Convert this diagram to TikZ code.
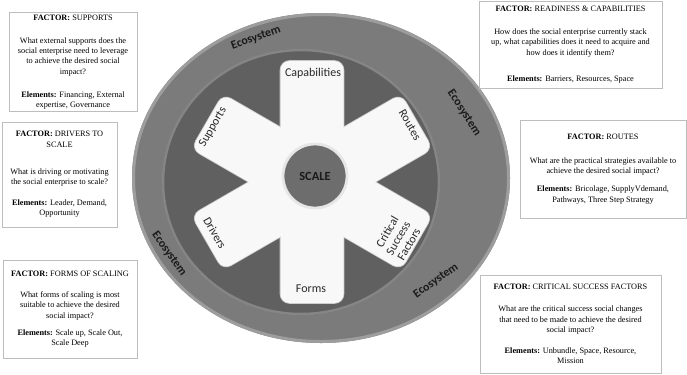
\documentclass[tikz,border=0pt]{standalone}
\usepackage{fontspec}
\setmainfont{Liberation Serif}
\newfontfamily\wheelfont{Carlito}
\definecolor{ringgray}{HTML}{7B7B7B}
\definecolor{ringedge}{HTML}{9D9D9D}
\definecolor{discgray}{HTML}{606060}
\definecolor{discedge}{HTML}{858585}
\definecolor{armwhite}{HTML}{F8F8F8}
\definecolor{armedge}{HTML}{C8C8C8}
\definecolor{scalegray}{HTML}{6D6D6D}
\definecolor{scalerim}{HTML}{E6E6E6}
\definecolor{labelgray}{HTML}{2A2A2A}
\definecolor{ecotext}{HTML}{1A1A1A}
\definecolor{boxgray}{HTML}{BDBDBD}

\begin{document}
\begin{tikzpicture}[x=1bp, y=-1bp,
    factorbox/.style={draw=boxgray, line width=0.6bp, fill=white, align=center, inner sep=2bp,
        font=\fontsize{8.3}{10.4}\selectfont},
    arm/.style={rectangle, minimum width=242bp, minimum height=63bp, rounded corners=9bp, inner sep=0pt},
    armlabel/.style={font=\wheelfont\fontsize{12}{12.5}\selectfont, text=labelgray, align=center},
    ecolabel/.style={font=\wheelfont\bfseries\fontsize{12}{12}\selectfont, text=ecotext}]
    \useasboundingbox (0, 0) rectangle (687, 374);

    \fill[ringgray] (321, 178) ellipse [x radius=189bp, y radius=165bp];
    \draw[ringedge, line width=3bp] (321, 178) ellipse [x radius=187.5bp, y radius=163.5bp];
    \fill[discgray] (301, 182) ellipse [x radius=139bp, y radius=133bp];
    \draw[discedge, line width=2.5bp] (301, 182) ellipse [x radius=138bp, y radius=132bp];

    \coordinate (hub) at (312, 182);
    \foreach \a/\n in {90/a, 30/b, -30/c}
        \node[arm, draw=armedge, line width=1.6bp, rotate=\a] (edge\n) at (hub) {};
    \foreach \a/\n in {90/a, 30/b, -30/c}
        \node[arm, fill=armwhite, rotate=\a] (arm\n) at (hub) {};

    \node[circle, minimum size=64bp, fill=scalegray, draw=scalerim, line width=2.8bp,
        font=\wheelfont\bfseries\fontsize{12.5}{13}\selectfont, text=ecotext] (scale) at (315, 176) {SCALE};

    \node[armlabel] (capabilities) at (313, 73) {Capabilities};
    \node[armlabel, rotate=-60] (routes) at (410, 125) {Routes};
    \node[armlabel, rotate=60] (csf) at (398, 238) {Critical\\Success\\Factors};
    \node[armlabel] (forms) at (311, 289) {Forms};
    \node[armlabel, rotate=-60] (drivers) at (215, 233) {Drivers};
    \node[armlabel, rotate=60] (supports) at (213, 127) {Supports};

    \node[ecolabel, rotate=19.5] (ecotop) at (256, 38) {Ecosystem};
    \node[ecolabel, rotate=-57] (ecoright) at (464, 113) {Ecosystem};
    \node[ecolabel, rotate=-55] (ecoleft) at (169, 254) {Ecosystem};
    \node[ecolabel, rotate=35] (ecobottom) at (436, 281) {Ecosystem};

    \node[factorbox, minimum width=128bp, minimum height=96bp] (supportsbox) at (73, 62)
        {\textbf{FACTOR:} SUPPORTS\\[12.6bp] What external supports does the\\ social enterprise need to leverage\\
         to achieve the desired social\\ impact?\\[12.6bp] \textbf{Elements:} Financing, External\\ expertise, Governance};
    \node[factorbox, minimum width=183bp, minimum height=87bp] (readinessbox) at (570.5, 44.5)
        {\textbf{FACTOR:} READINESS \& CAPABILITIES\\[12.6bp] How does the social enterprise currently stack\\
         up, what capabilities does it need to acquire and\\ how does it identify them?\\[15.6bp]
         \textbf{Elements:} Barriers, Resources, Space};
    \node[factorbox, minimum width=115bp, minimum height=105bp] (driversbox) at (59.5, 174.5)
        {\textbf{FACTOR:} DRIVERS TO\\ SCALE\\[16.6bp] What is driving or motivating\\ the social enterprise to scale?\\[10.6bp]
         \textbf{Elements:} Leader, Demand,\\ Opportunity};
    \node[factorbox, minimum width=166bp, minimum height=98bp] (routesbox) at (603, 169)
        {\textbf{FACTOR:} ROUTES\\[13.6bp] What are the practical strategies available to\\ achieve the desired social impact?\\[7.6bp]
         \textbf{Elements:} Bricolage, SupplyVdemand,\\ Pathways, Three Step Strategy};
    \node[factorbox, minimum width=134bp, minimum height=98bp] (formsbox) at (70, 309)
        {\textbf{FACTOR:} FORMS OF SCALING\\[10.6bp] What forms of scaling is most\\ suitable to achieve the desired\\
         social impact?\\[6.6bp] \textbf{Elements:} Scale up, Scale Out,\\ Scale Deep};
    \node[factorbox, minimum width=181bp, minimum height=98bp] (csfbox) at (570.5, 324)
        {\textbf{FACTOR:} CRITICAL SUCCESS FACTORS\\[11.6bp] What are the critical success social changes\\
         that need to be made to achieve the desired\\ social impact?\\[10.6bp]
         \textbf{Elements:} Unbundle, Space, Resource,\\ Mission};
\end{tikzpicture}
\end{document}
